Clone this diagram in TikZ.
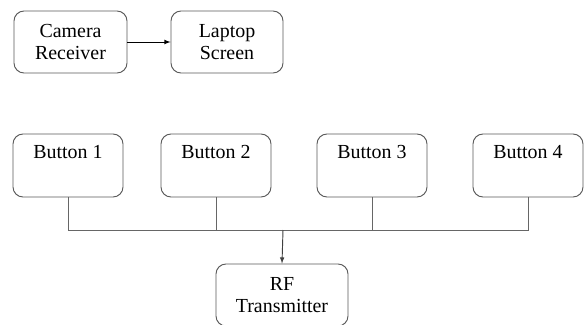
\documentclass[tikz,border=0pt]{standalone}
\usepackage{fontspec}
\setmainfont{Liberation Serif}
\usepackage{tikz}

\begin{document}
\begin{tikzpicture}[x=0.03cm, y=-0.03cm,
    box/.style={draw=black!65, line width=0.8pt, rounded corners=0.3cm, align=center,
        font=\rmfamily\fontsize{17}{19.5}\selectfont},
    btnbox/.style={box, minimum width=3.3cm, text height=0.45cm, text depth=0.9cm, inner ysep=0.27cm},
    wire/.style={draw=black!60, line width=0.8pt}]
    \useasboundingbox (0,0) rectangle (584,324);

    \node(cam)[box, minimum width=3.39cm, minimum height=1.86cm] at (70.5,42) {Camera\\Receiver};
    \node(lap)[box, minimum width=3.36cm, minimum height=1.86cm] at (227,42) {Laptop\\Screen};

    \node(b1)[btnbox] at (68,165.5) {Button 1};
    \node(b2)[btnbox] at (216,165.5) {Button 2};
    \node(b3)[btnbox] at (372,165.5) {Button 3};
    \node(b4)[btnbox] at (528,165.5) {Button 4};

    \node(rf)[box, minimum width=3.96cm, minimum height=1.86cm] at (282,295) {RF\\Transmitter};

    \coordinate(bus) at (283,230);

    \draw[-latex, line width=0.8pt] (cam) -- (lap);
    \draw[wire] (b1.south) -- (b1.south |- bus) -- (b4.south |- bus) -- (b4.south);
    \draw[wire] (b2.south) -- (b2.south |- bus);
    \draw[wire] (b3.south) -- (b3.south |- bus);
    \draw[-latex, line width=0.8pt, black!75] (bus) -- (rf.north);
\end{tikzpicture}
\end{document}
